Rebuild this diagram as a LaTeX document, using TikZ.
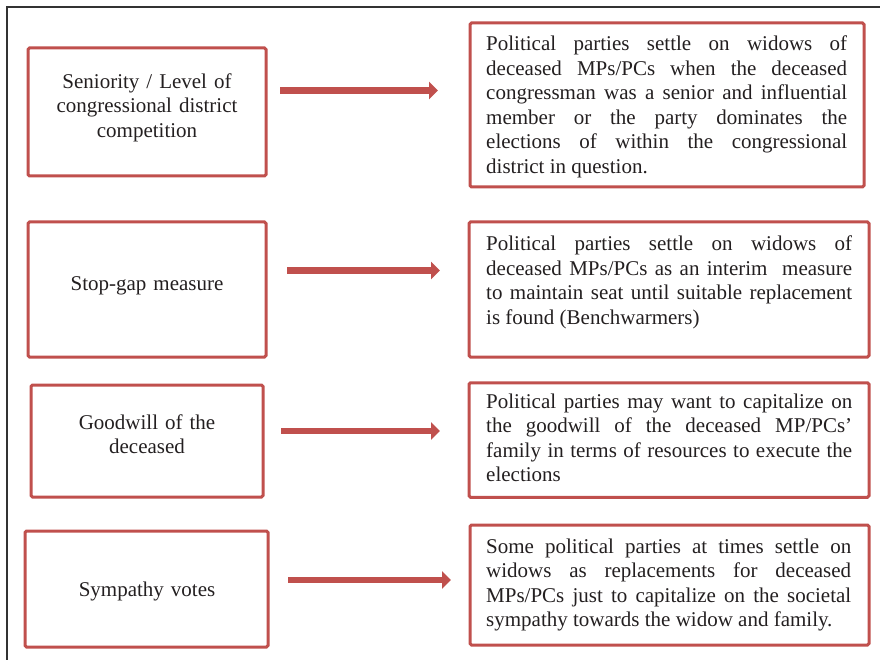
\documentclass[tikz,border=0pt]{standalone}
\usepackage{fontspec}
\setmainfont{Liberation Serif}
\usetikzlibrary{arrows.meta}
\definecolor{boxred}{HTML}{C0504D}
\definecolor{ink}{HTML}{231F20}
\definecolor{framegray}{HTML}{333333}
\newcommand{\jfont}{\fontsize{21}{24.5}\selectfont\spaceskip=0.25em plus 0.6em minus 0.08em\xspaceskip=\spaceskip\tolerance=10000\hbadness=10000\hyphenpenalty=10000\exhyphenpenalty=10000\parfillskip=0pt plus 1fil}
\begin{document}
\begin{tikzpicture}[x=1pt,y=-1pt,
  box/.style={draw=boxred, line width=3pt, rounded corners=1.5pt, inner sep=0pt},
  txt/.style={text=ink, font=\fontsize{21}{24.5}\selectfont, inner sep=0pt},
  ltxt/.style={txt, text width=236pt, align=center, anchor=base},
  rtxt/.style={txt, font=\jfont, align=justify, anchor=base west},
  arr/.style={draw=boxred, line width=6.5pt, -{Triangle[length=9pt,width=17pt]}}
]
\useasboundingbox (0,0) rectangle (880,660);
\draw[framegray, line width=1.2pt] (7,660) -- (7,7) -- (880,7);

% left boxes
\node[box, minimum width=238pt, minimum height=128pt] (l1) at (147,112) {};
\node[box, minimum width=238pt, minimum height=135pt] (l2) at (147,289.5) {};
\node[box, minimum width=232pt, minimum height=112pt] (l3) at (147,441) {};
\node[box, minimum width=243pt, minimum height=116pt] (l4) at (146.5,589) {};

% right boxes
\node[box, minimum width=394pt, minimum height=164pt] (r1) at (667,105) {};
\node[box, minimum width=400pt, minimum height=135pt] (r2) at (669,289.5) {};
\node[box, minimum width=400pt, minimum height=114.5pt] (r3) at (669,440) {};
\node[box, minimum width=399pt, minimum height=120pt] (r4) at (669.5,585) {};

% left texts
\node[ltxt] (l1t) at (147,88.3) {Seniority / Level of\\congressional district\\competition};
\node[ltxt] (l2t) at (147,290) {Stop-gap measure};
\node[ltxt] (l3t) at (147,429.3) {Goodwill of the\\deceased};
\node[ltxt] (l4t) at (147,596) {Sympathy votes};

% right texts
\node[rtxt, text width=361pt] (r1t) at (486,50.7) {%
Political parties settle on widows of\linebreak
deceased MPs/PCs when the deceased\linebreak
congressman was a senior and influential\linebreak
member or the party dominates the\linebreak
elections of within the congressional\linebreak
district in question.};
\node[rtxt, text width=366pt] (r2t) at (486,251) {%
Political parties settle on widows of\linebreak
deceased MPs/PCs as an interim\ \ measure\linebreak
to maintain seat until suitable replacement\linebreak
is found (Benchwarmers)};
\node[rtxt, text width=366pt] (r3t) at (486,408.3) {%
Political parties may want to capitalize on\linebreak
the goodwill of the deceased MP/PCs’\linebreak
family in terms of resources to execute the\linebreak
elections};
\node[rtxt, text width=365pt] (r4t) at (486,553.3) {%
Some political parties at times settle on\linebreak
widows as replacements for deceased\linebreak
MPs/PCs just to capitalize on the societal\linebreak
sympathy towards the widow and family.};

% arrows
\coordinate (a1s) at (280,90.5);  \coordinate (a1e) at (438,90.5);
\coordinate (a2s) at (287,270.5); \coordinate (a2e) at (440,270.5);
\coordinate (a3s) at (281,431);   \coordinate (a3e) at (440,431);
\coordinate (a4s) at (288,580);   \coordinate (a4e) at (451,580);
\draw[arr] (a1s) -- (a1e);
\draw[arr] (a2s) -- (a2e);
\draw[arr] (a3s) -- (a3e);
\draw[arr] (a4s) -- (a4e);
\end{tikzpicture}
\end{document}
